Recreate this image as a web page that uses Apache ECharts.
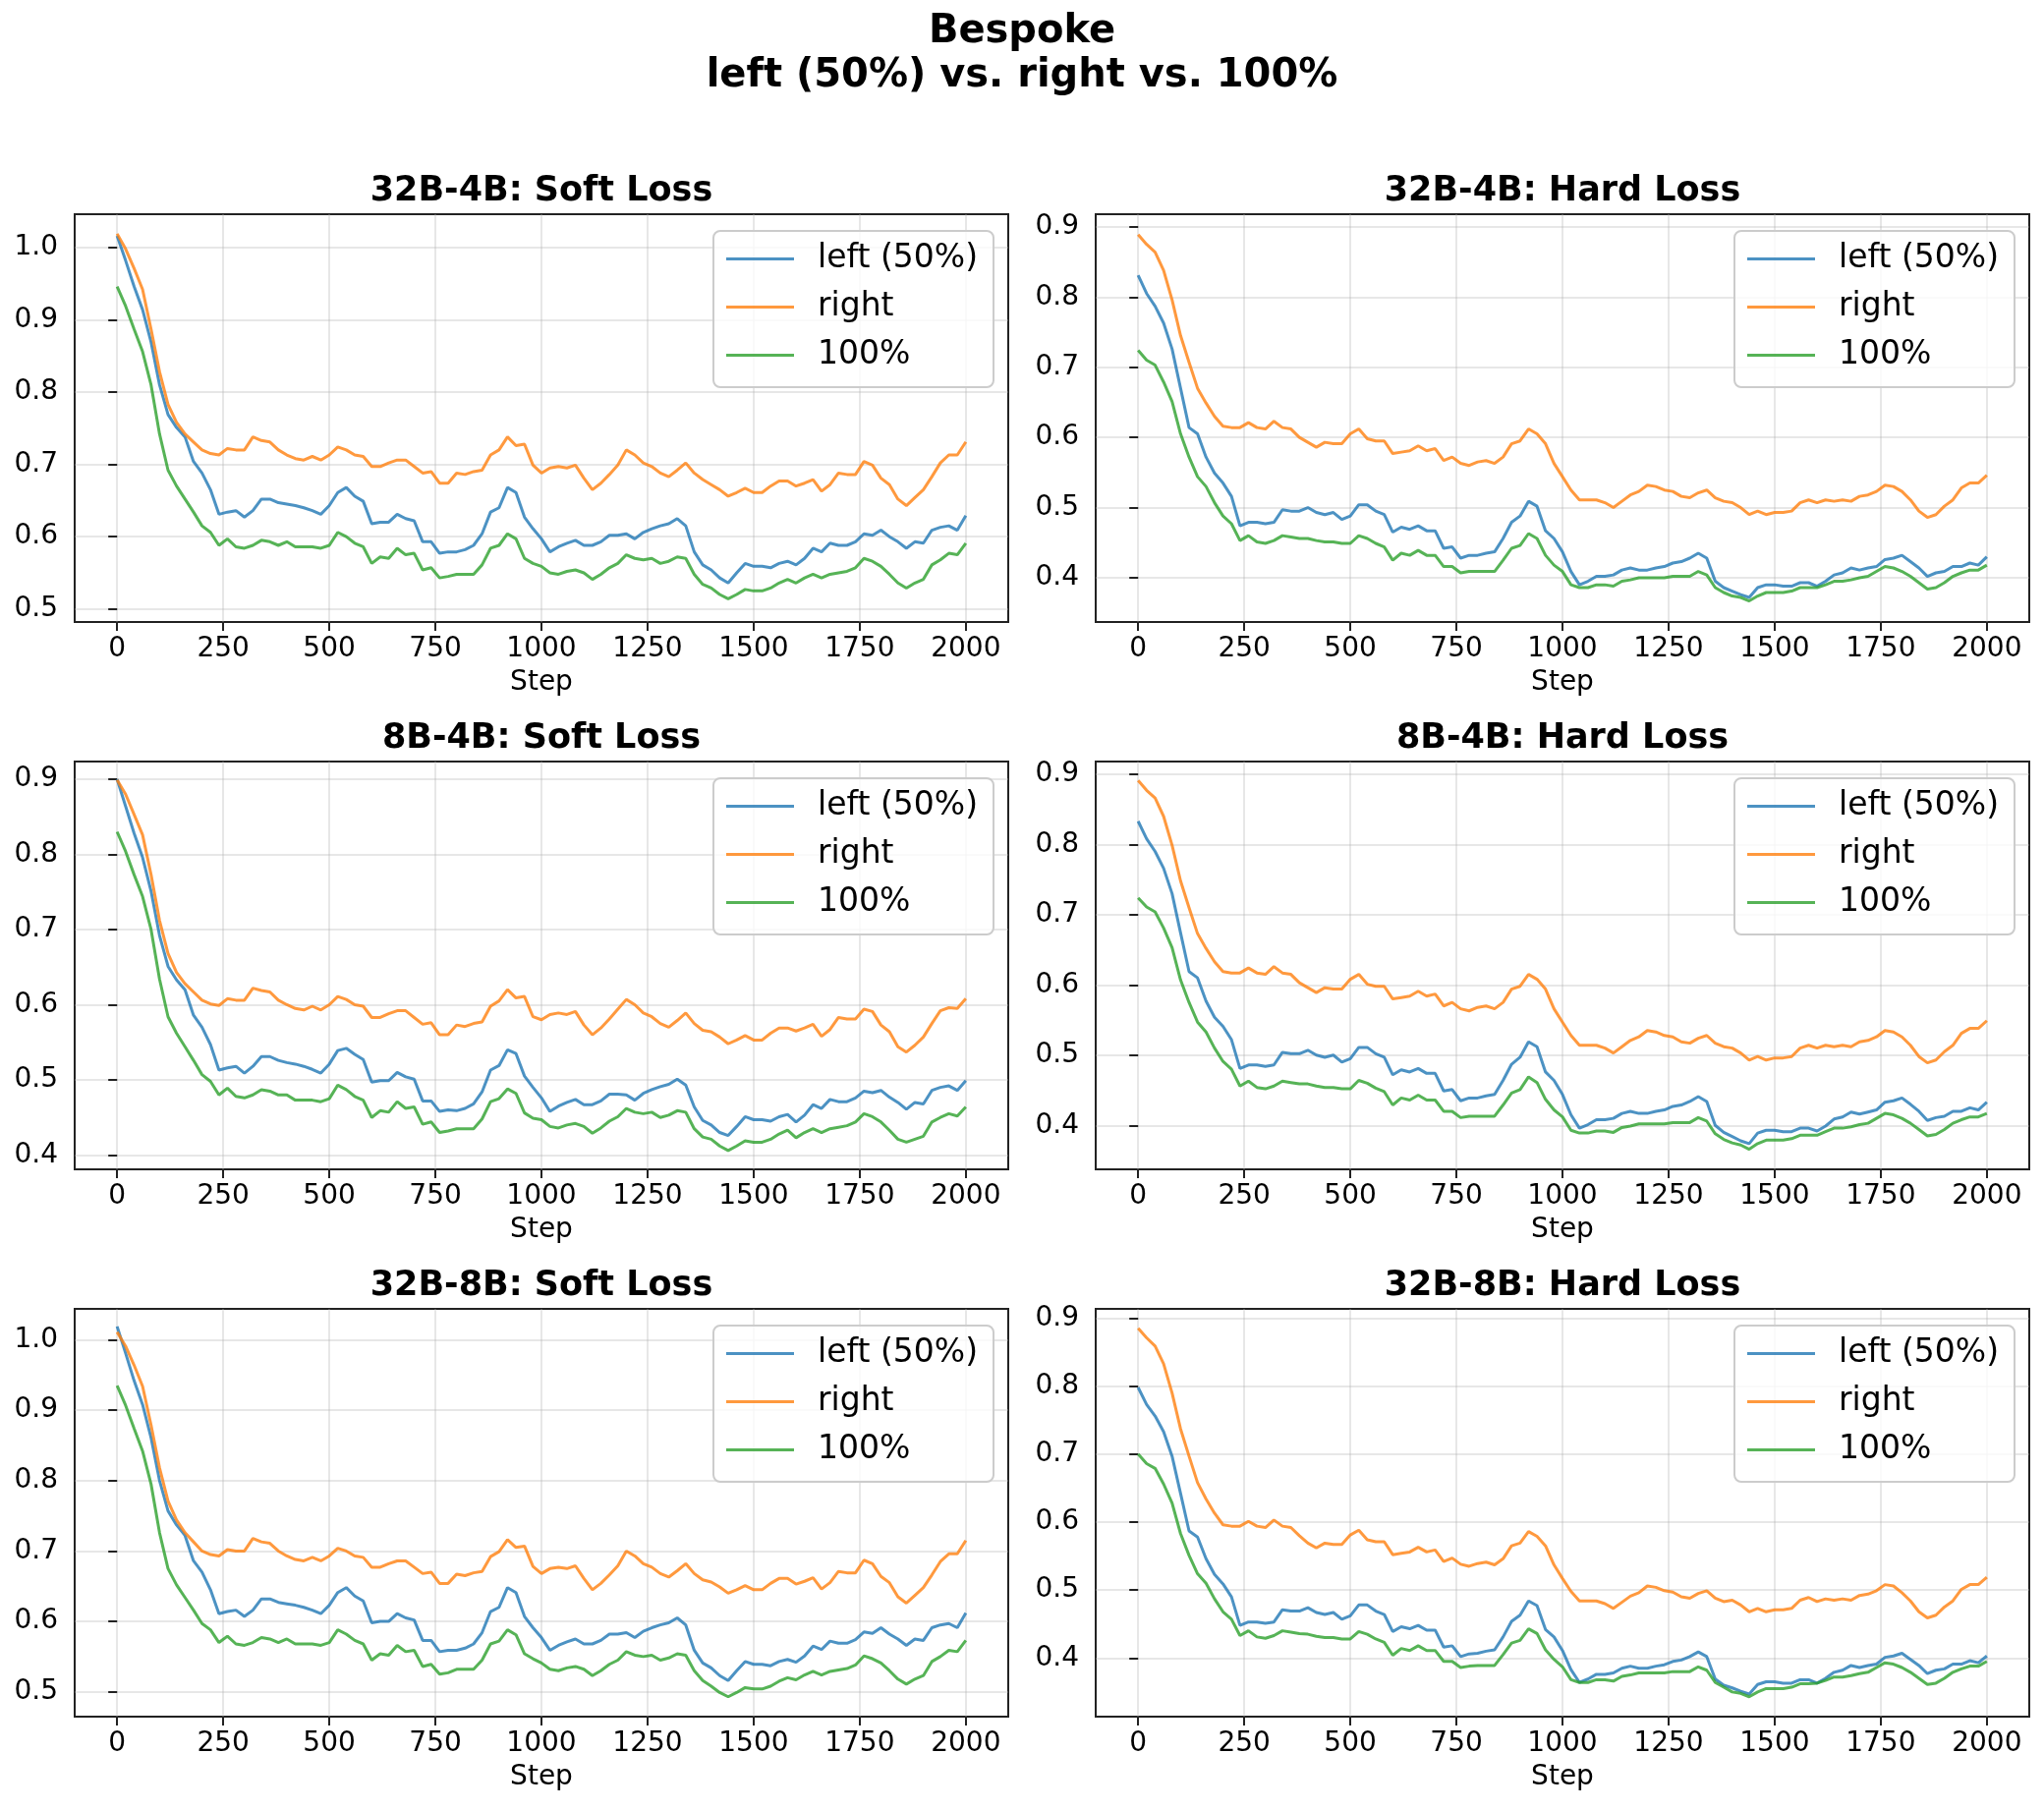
<!DOCTYPE html>
<html><head><meta charset="utf-8">
<script src="https://cdn.jsdelivr.net/npm/echarts@6/dist/echarts.min.js"></script>
<style>html,body{margin:0;padding:0;background:#fff}#c{width:2080px;height:1842px}</style>
</head><body><div id="c"></div>
<script>
// ---------------- data ----------------
const steps = Array.from({length: 101}, (_, i) => i * 20);
const xTicks = [0, 250, 500, 750, 1000, 1250, 1500, 1750, 2000];
const yTicksSoftHi = [0.5, 0.6, 0.7, 0.8, 0.9, 1.0];
const yTicksSoftLo = [0.4, 0.5, 0.6, 0.7, 0.8, 0.9];
const yTicksHard = [0.4, 0.5, 0.6, 0.7, 0.8, 0.9];
const seriesNames = ['left (50%)', 'right', '100%'];
const suptitle = 'Bespoke\nleft (50%) vs. right vs. 100%';
const panelTitles = ['32B-4B: Soft Loss', '32B-4B: Hard Loss', '8B-4B: Soft Loss', '8B-4B: Hard Loss', '32B-8B: Soft Loss', '32B-8B: Hard Loss'];

// 32B-4B soft
const left_32B4B_soft = [1.016,0.982,0.946,0.914,0.869,0.810,0.769,0.751,0.738,0.704,
0.688,0.665,0.631,0.634,0.636,0.627,0.636,0.652,0.652,0.647,
0.645,0.643,0.640,0.636,0.631,0.643,0.661,0.668,0.656,0.649,
0.618,0.620,0.620,0.631,0.625,0.622,0.593,0.593,0.577,0.579,
0.579,0.582,0.588,0.604,0.634,0.640,0.668,0.661,0.627,0.611,
0.597,0.579,0.586,0.591,0.595,0.588,0.588,0.593,0.602,0.602,
0.604,0.597,0.606,0.611,0.615,0.618,0.625,0.615,0.579,0.561,
0.554,0.543,0.536,0.550,0.563,0.559,0.559,0.557,0.563,0.566,
0.561,0.570,0.584,0.579,0.591,0.588,0.588,0.593,0.604,0.602,
0.609,0.600,0.593,0.584,0.593,0.591,0.609,0.613,0.615,0.609,
0.629];
const right_32B4B_soft = [1.019,0.998,0.971,0.942,0.887,0.828,0.783,0.758,0.742,0.731,
0.720,0.715,0.713,0.722,0.720,0.720,0.738,0.733,0.731,0.720,
0.713,0.708,0.706,0.711,0.706,0.713,0.724,0.720,0.713,0.711,
0.697,0.697,0.702,0.706,0.706,0.697,0.688,0.690,0.674,0.674,
0.688,0.686,0.690,0.692,0.713,0.720,0.738,0.726,0.728,0.699,
0.688,0.695,0.697,0.695,0.699,0.681,0.665,0.674,0.686,0.699,
0.720,0.713,0.702,0.697,0.688,0.683,0.692,0.702,0.688,0.679,
0.672,0.665,0.656,0.661,0.667,0.661,0.661,0.670,0.677,0.677,
0.670,0.674,0.679,0.663,0.672,0.688,0.686,0.686,0.704,0.699,
0.681,0.672,0.652,0.643,0.654,0.665,0.683,0.702,0.713,0.713,
0.731];
const full_32B4B_soft = [0.946,0.919,0.887,0.856,0.810,0.742,0.692,0.670,0.652,0.634,
0.615,0.606,0.588,0.597,0.586,0.584,0.588,0.595,0.593,0.588,
0.593,0.586,0.586,0.586,0.584,0.588,0.606,0.600,0.591,0.586,
0.563,0.572,0.570,0.584,0.575,0.577,0.554,0.557,0.543,0.545,
0.548,0.548,0.548,0.561,0.584,0.588,0.604,0.597,0.570,0.563,
0.559,0.550,0.548,0.552,0.554,0.550,0.541,0.548,0.557,0.563,
0.575,0.570,0.568,0.570,0.563,0.566,0.572,0.570,0.548,0.534,
0.529,0.520,0.514,0.520,0.527,0.525,0.525,0.529,0.536,0.541,
0.536,0.543,0.548,0.543,0.548,0.550,0.552,0.557,0.570,0.566,
0.559,0.548,0.536,0.529,0.536,0.541,0.561,0.568,0.577,0.575,
0.591];

// 32B-4B hard
const left_32B4B_hard = [0.831,0.805,0.787,0.763,0.726,0.670,0.614,0.605,0.572,0.549,
0.535,0.516,0.474,0.479,0.479,0.477,0.479,0.497,0.495,0.495,
0.500,0.493,0.490,0.493,0.483,0.488,0.504,0.504,0.495,0.490,
0.465,0.472,0.469,0.474,0.467,0.467,0.442,0.444,0.428,0.432,
0.432,0.435,0.437,0.456,0.479,0.488,0.509,0.502,0.467,0.456,
0.437,0.409,0.390,0.395,0.402,0.402,0.404,0.411,0.414,0.411,
0.411,0.414,0.416,0.421,0.423,0.428,0.435,0.428,0.395,0.386,
0.381,0.376,0.372,0.386,0.390,0.390,0.388,0.388,0.393,0.393,
0.388,0.395,0.404,0.407,0.414,0.411,0.414,0.416,0.426,0.428,
0.432,0.423,0.414,0.402,0.407,0.409,0.416,0.416,0.421,0.418,
0.430];
const right_32B4B_hard = [0.889,0.875,0.864,0.838,0.796,0.745,0.707,0.670,0.649,0.630,
0.616,0.614,0.614,0.621,0.614,0.612,0.623,0.614,0.612,0.600,
0.593,0.586,0.593,0.591,0.591,0.605,0.612,0.598,0.595,0.595,
0.577,0.579,0.581,0.588,0.581,0.584,0.567,0.572,0.563,0.560,
0.565,0.567,0.563,0.572,0.591,0.595,0.612,0.605,0.591,0.563,
0.544,0.525,0.511,0.511,0.511,0.507,0.500,0.509,0.518,0.523,
0.532,0.530,0.525,0.523,0.516,0.514,0.521,0.525,0.514,0.509,
0.507,0.500,0.490,0.495,0.490,0.493,0.493,0.495,0.507,0.511,
0.507,0.511,0.509,0.511,0.509,0.516,0.518,0.523,0.532,0.530,
0.523,0.511,0.495,0.486,0.490,0.502,0.511,0.528,0.535,0.535,
0.546];
const full_32B4B_hard = [0.724,0.710,0.703,0.679,0.651,0.605,0.572,0.544,0.530,0.507,
0.488,0.477,0.453,0.460,0.451,0.449,0.453,0.460,0.458,0.456,
0.456,0.453,0.451,0.451,0.449,0.449,0.460,0.456,0.449,0.444,
0.425,0.435,0.432,0.439,0.432,0.432,0.416,0.416,0.407,0.409,
0.409,0.409,0.409,0.425,0.442,0.446,0.463,0.456,0.432,0.418,
0.409,0.390,0.386,0.386,0.390,0.390,0.388,0.395,0.397,0.400,
0.400,0.400,0.400,0.402,0.402,0.402,0.409,0.404,0.386,0.379,
0.374,0.372,0.367,0.374,0.379,0.379,0.379,0.381,0.386,0.386,
0.386,0.390,0.395,0.395,0.397,0.400,0.402,0.409,0.416,0.414,
0.409,0.402,0.393,0.384,0.386,0.393,0.402,0.407,0.411,0.411,
0.418];

// 8B-4B soft
const left_8B4B_soft = [0.900,0.864,0.828,0.796,0.751,0.692,0.651,0.633,0.620,0.586,
0.570,0.547,0.513,0.516,0.518,0.509,0.518,0.531,0.531,0.526,
0.523,0.521,0.518,0.514,0.509,0.521,0.539,0.542,0.534,0.527,
0.497,0.499,0.499,0.510,0.504,0.501,0.472,0.472,0.458,0.460,
0.459,0.462,0.468,0.484,0.513,0.519,0.540,0.535,0.505,0.490,
0.476,0.458,0.465,0.470,0.474,0.467,0.467,0.472,0.481,0.481,
0.480,0.473,0.482,0.487,0.491,0.494,0.501,0.493,0.464,0.446,
0.440,0.430,0.426,0.438,0.451,0.447,0.447,0.445,0.451,0.454,
0.444,0.453,0.467,0.462,0.474,0.471,0.471,0.476,0.485,0.483,
0.486,0.477,0.470,0.461,0.470,0.468,0.486,0.490,0.492,0.486,
0.499];
const right_8B4B_soft = [0.899,0.880,0.853,0.826,0.773,0.712,0.668,0.643,0.628,0.617,
0.606,0.601,0.599,0.608,0.606,0.606,0.622,0.619,0.617,0.606,
0.600,0.595,0.593,0.598,0.593,0.600,0.611,0.607,0.600,0.598,
0.583,0.583,0.588,0.592,0.592,0.583,0.574,0.576,0.560,0.560,
0.573,0.571,0.575,0.577,0.598,0.605,0.620,0.609,0.611,0.584,
0.580,0.587,0.589,0.587,0.591,0.573,0.560,0.569,0.581,0.594,
0.607,0.600,0.589,0.584,0.575,0.570,0.579,0.589,0.575,0.566,
0.564,0.557,0.548,0.553,0.559,0.553,0.553,0.562,0.569,0.569,
0.565,0.569,0.574,0.558,0.567,0.583,0.581,0.581,0.594,0.591,
0.573,0.564,0.544,0.537,0.546,0.557,0.575,0.592,0.596,0.595,
0.608];
const full_8B4B_soft = [0.830,0.804,0.773,0.744,0.700,0.634,0.584,0.562,0.544,0.526,
0.507,0.498,0.480,0.489,0.478,0.476,0.480,0.487,0.485,0.480,
0.480,0.473,0.473,0.473,0.471,0.475,0.493,0.487,0.478,0.473,
0.450,0.459,0.457,0.471,0.462,0.464,0.441,0.444,0.430,0.432,
0.435,0.435,0.435,0.448,0.471,0.475,0.488,0.482,0.456,0.449,
0.447,0.438,0.436,0.440,0.442,0.438,0.429,0.436,0.445,0.451,
0.462,0.457,0.455,0.457,0.450,0.453,0.459,0.457,0.435,0.424,
0.421,0.412,0.406,0.412,0.419,0.417,0.417,0.421,0.428,0.433,
0.423,0.430,0.435,0.430,0.435,0.437,0.439,0.444,0.455,0.451,
0.444,0.433,0.421,0.417,0.421,0.425,0.444,0.450,0.455,0.452,
0.464];

// 8B-4B hard
const left_8B4B_hard = [0.833,0.808,0.790,0.766,0.730,0.674,0.619,0.610,0.577,0.554,
0.541,0.522,0.481,0.486,0.486,0.484,0.486,0.504,0.502,0.502,
0.507,0.500,0.497,0.500,0.490,0.495,0.511,0.511,0.502,0.497,
0.472,0.479,0.476,0.481,0.474,0.474,0.449,0.451,0.435,0.439,
0.439,0.442,0.444,0.464,0.487,0.497,0.519,0.512,0.476,0.464,
0.444,0.415,0.396,0.401,0.408,0.408,0.410,0.417,0.420,0.417,
0.417,0.420,0.422,0.427,0.429,0.434,0.441,0.434,0.400,0.390,
0.384,0.378,0.374,0.389,0.393,0.393,0.391,0.391,0.396,0.396,
0.392,0.399,0.409,0.412,0.419,0.416,0.419,0.422,0.433,0.435,
0.439,0.430,0.420,0.407,0.411,0.413,0.420,0.420,0.425,0.422,
0.433];
const right_8B4B_hard = [0.891,0.877,0.866,0.840,0.799,0.748,0.710,0.673,0.652,0.633,
0.619,0.617,0.617,0.624,0.617,0.615,0.626,0.617,0.615,0.603,
0.596,0.589,0.596,0.594,0.594,0.608,0.615,0.601,0.598,0.598,
0.580,0.582,0.584,0.591,0.584,0.587,0.570,0.575,0.566,0.563,
0.568,0.570,0.566,0.575,0.594,0.598,0.615,0.608,0.594,0.566,
0.547,0.528,0.514,0.514,0.514,0.510,0.503,0.512,0.521,0.526,
0.535,0.533,0.528,0.526,0.519,0.517,0.524,0.528,0.517,0.512,
0.510,0.503,0.493,0.498,0.493,0.496,0.496,0.498,0.510,0.514,
0.510,0.514,0.512,0.514,0.512,0.519,0.521,0.526,0.535,0.533,
0.526,0.514,0.498,0.489,0.493,0.505,0.514,0.531,0.538,0.538,
0.549];
const full_8B4B_hard = [0.724,0.711,0.704,0.681,0.653,0.607,0.575,0.547,0.533,0.510,
0.491,0.480,0.456,0.463,0.454,0.452,0.456,0.463,0.461,0.459,
0.459,0.456,0.454,0.454,0.452,0.452,0.464,0.460,0.453,0.448,
0.429,0.439,0.436,0.443,0.436,0.436,0.420,0.420,0.411,0.413,
0.413,0.413,0.413,0.429,0.446,0.451,0.469,0.461,0.437,0.422,
0.412,0.393,0.389,0.389,0.392,0.392,0.390,0.397,0.399,0.402,
0.402,0.402,0.402,0.404,0.404,0.404,0.411,0.406,0.388,0.380,
0.375,0.372,0.366,0.374,0.379,0.379,0.379,0.381,0.386,0.386,
0.386,0.391,0.396,0.396,0.398,0.401,0.403,0.410,0.417,0.415,
0.410,0.403,0.394,0.385,0.387,0.394,0.403,0.408,0.412,0.412,
0.417];

// 32B-8B soft
const left_32B8B_soft = [1.019,0.981,0.942,0.908,0.861,0.800,0.757,0.737,0.722,0.686,
0.670,0.645,0.611,0.614,0.616,0.607,0.616,0.632,0.632,0.627,
0.625,0.623,0.620,0.616,0.611,0.623,0.641,0.648,0.636,0.629,
0.598,0.600,0.600,0.611,0.605,0.602,0.573,0.573,0.557,0.559,
0.559,0.562,0.568,0.584,0.614,0.620,0.648,0.641,0.607,0.591,
0.577,0.559,0.566,0.571,0.575,0.568,0.568,0.573,0.582,0.582,
0.584,0.577,0.586,0.591,0.595,0.598,0.605,0.595,0.559,0.541,
0.534,0.523,0.516,0.530,0.543,0.539,0.539,0.537,0.543,0.546,
0.542,0.551,0.565,0.560,0.572,0.569,0.569,0.574,0.585,0.583,
0.591,0.582,0.575,0.566,0.575,0.573,0.591,0.595,0.597,0.591,
0.612];
const right_32B8B_soft = [1.011,0.991,0.964,0.934,0.879,0.818,0.771,0.744,0.726,0.713,
0.700,0.695,0.693,0.702,0.700,0.700,0.718,0.713,0.711,0.700,
0.693,0.688,0.686,0.691,0.686,0.693,0.704,0.700,0.693,0.691,
0.677,0.677,0.682,0.686,0.686,0.677,0.668,0.670,0.654,0.654,
0.667,0.665,0.669,0.671,0.692,0.699,0.716,0.705,0.707,0.678,
0.668,0.675,0.677,0.675,0.679,0.661,0.645,0.654,0.666,0.679,
0.700,0.693,0.682,0.677,0.668,0.663,0.672,0.682,0.668,0.659,
0.656,0.649,0.640,0.645,0.651,0.645,0.645,0.654,0.661,0.661,
0.653,0.657,0.662,0.646,0.655,0.671,0.669,0.669,0.687,0.682,
0.664,0.655,0.635,0.626,0.637,0.648,0.666,0.685,0.696,0.696,
0.715];
const full_32B8B_soft = [0.935,0.907,0.874,0.842,0.795,0.726,0.675,0.652,0.634,0.616,
0.597,0.588,0.570,0.579,0.568,0.566,0.570,0.577,0.575,0.570,
0.575,0.568,0.568,0.568,0.566,0.570,0.588,0.582,0.573,0.568,
0.545,0.554,0.552,0.566,0.557,0.559,0.536,0.539,0.525,0.527,
0.532,0.532,0.532,0.545,0.568,0.572,0.588,0.581,0.554,0.547,
0.541,0.532,0.530,0.534,0.536,0.532,0.523,0.530,0.539,0.545,
0.557,0.552,0.550,0.552,0.545,0.548,0.554,0.552,0.530,0.516,
0.508,0.499,0.493,0.499,0.506,0.504,0.504,0.508,0.515,0.520,
0.517,0.524,0.529,0.524,0.529,0.531,0.533,0.538,0.551,0.547,
0.541,0.530,0.518,0.511,0.518,0.523,0.543,0.550,0.559,0.557,
0.573];

// 32B-8B hard
const left_32B8B_hard = [0.798,0.773,0.756,0.733,0.697,0.642,0.587,0.578,0.546,0.523,
0.509,0.490,0.448,0.453,0.453,0.451,0.453,0.471,0.469,0.469,
0.474,0.467,0.464,0.467,0.457,0.462,0.478,0.478,0.469,0.464,
0.439,0.446,0.443,0.448,0.441,0.441,0.416,0.418,0.402,0.406,
0.407,0.410,0.412,0.431,0.454,0.463,0.484,0.477,0.442,0.431,
0.411,0.383,0.364,0.369,0.376,0.376,0.378,0.385,0.388,0.385,
0.385,0.388,0.390,0.395,0.397,0.402,0.409,0.402,0.369,0.360,
0.356,0.351,0.347,0.361,0.365,0.365,0.363,0.363,0.368,0.368,
0.363,0.370,0.379,0.382,0.389,0.386,0.389,0.391,0.401,0.403,
0.407,0.398,0.389,0.377,0.382,0.384,0.391,0.391,0.396,0.393,
0.403];
const right_32B8B_hard = [0.885,0.871,0.859,0.833,0.790,0.737,0.697,0.658,0.634,0.613,
0.596,0.594,0.594,0.601,0.594,0.592,0.603,0.594,0.592,0.580,
0.569,0.562,0.569,0.567,0.567,0.581,0.588,0.574,0.571,0.571,
0.552,0.554,0.556,0.563,0.556,0.559,0.542,0.547,0.538,0.535,
0.539,0.541,0.537,0.546,0.565,0.569,0.586,0.579,0.565,0.537,
0.517,0.498,0.484,0.484,0.484,0.480,0.473,0.482,0.491,0.496,
0.506,0.504,0.499,0.497,0.490,0.488,0.495,0.499,0.488,0.483,
0.485,0.478,0.468,0.473,0.468,0.471,0.471,0.473,0.485,0.489,
0.483,0.487,0.485,0.487,0.485,0.492,0.494,0.499,0.508,0.506,
0.496,0.484,0.468,0.459,0.463,0.475,0.484,0.501,0.508,0.508,
0.519];
const full_32B8B_hard = [0.700,0.686,0.679,0.656,0.628,0.583,0.551,0.524,0.510,0.487,
0.468,0.457,0.433,0.440,0.431,0.429,0.433,0.440,0.438,0.436,
0.435,0.432,0.430,0.430,0.428,0.428,0.439,0.435,0.428,0.423,
0.404,0.414,0.411,0.418,0.411,0.411,0.395,0.395,0.386,0.388,
0.389,0.389,0.389,0.405,0.422,0.426,0.443,0.436,0.412,0.398,
0.387,0.368,0.364,0.364,0.368,0.368,0.366,0.373,0.375,0.378,
0.378,0.378,0.378,0.380,0.380,0.380,0.387,0.382,0.364,0.357,
0.350,0.348,0.343,0.350,0.355,0.355,0.355,0.357,0.362,0.362,
0.363,0.367,0.372,0.372,0.374,0.377,0.379,0.386,0.393,0.391,
0.386,0.379,0.370,0.361,0.363,0.370,0.379,0.384,0.388,0.388,
0.395];

const panelData = [
  {left: left_32B4B_soft, right: right_32B4B_soft, full: full_32B4B_soft, yMin: 0.482, yMax: 1.046, yTicks: yTicksSoftHi},
  {left: left_32B4B_hard, right: right_32B4B_hard, full: full_32B4B_hard, yMin: 0.337, yMax: 0.918, yTicks: yTicksHard},
  {left: left_8B4B_soft, right: right_8B4B_soft, full: full_8B4B_soft, yMin: 0.381, yMax: 0.9235, yTicks: yTicksSoftLo},
  {left: left_8B4B_hard, right: right_8B4B_hard, full: full_8B4B_hard, yMin: 0.3374, yMax: 0.918, yTicks: yTicksHard},
  {left: left_32B8B_soft, right: right_32B8B_soft, full: full_32B8B_soft, yMin: 0.4647, yMax: 1.044, yTicks: yTicksSoftHi},
  {left: left_32B8B_hard, right: right_32B8B_hard, full: full_32B8B_hard, yMin: 0.3137, yMax: 0.9137, yTicks: yTicksHard}
];

// ---------------- layout / style ----------------
const FONT = 'DejaVu Sans';
const COLORS = ['#1f77b4', '#ff7f0e', '#2ca02c'];
const colLeft = [76, 1115];
const rowTop = [218, 775, 1332];
const GW = 950, GH = 415;

const option = {
  animation: false,
  backgroundColor: '#ffffff',
  title: [{
    text: suptitle, left: 1040, top: 10.5, textAlign: 'center', padding: 0,
    textStyle: {fontFamily: FONT, fontSize: 40, fontWeight: 'bold', color: '#000', lineHeight: 45}
  }],
  grid: [], xAxis: [], yAxis: [], legend: [], series: []
};

panelData.forEach((p, i) => {
  const gx = colLeft[i % 2], gy = rowTop[Math.floor(i / 2)];
  option.title.push({
    text: panelTitles[i], left: gx + GW / 2, top: gy - 41, textAlign: 'center', padding: 0,
    textStyle: {fontFamily: FONT, fontSize: 35, fontWeight: 'bold', color: '#000', lineHeight: 35}
  });
  option.grid.push({left: gx, top: gy, width: GW, height: GH, containLabel: false,
    show: true, borderColor: '#222', borderWidth: 2, backgroundColor: 'transparent'});
  option.xAxis.push({
    type: 'value', gridIndex: i, min: -100, max: 2100,
    name: 'Step', nameLocation: 'middle', nameGap: 48,
    nameTextStyle: {fontFamily: FONT, fontSize: 28, color: '#000'},
    axisLine: {show: false},
    axisTick: {show: true, length: 9, lineStyle: {color: '#222', width: 2}, customValues: xTicks},
    axisLabel: {show: true, margin: 14, fontFamily: FONT, fontSize: 28, color: '#000', customValues: xTicks,
      formatter: v => String(Math.round(v))},
    splitLine: {show: true, lineStyle: {color: 'rgba(176,176,176,0.3)', width: 2}}
  });
  option.yAxis.push({
    type: 'value', gridIndex: i, min: p.yMin, max: p.yMax,
    axisLine: {show: false},
    axisTick: {show: true, length: 9, lineStyle: {color: '#222', width: 2}, customValues: p.yTicks},
    axisLabel: {show: true, margin: 17, fontFamily: FONT, fontSize: 28, color: '#000', customValues: p.yTicks,
      formatter: v => v.toFixed(1)},
    splitLine: {show: true, lineStyle: {color: 'rgba(176,176,176,0.3)', width: 2}}
  });
  const arrs = [p.left, p.right, p.full];
  arrs.forEach((arr, k) => {
    option.series.push({
      type: 'line', name: seriesNames[k], xAxisIndex: i, yAxisIndex: i,
      data: steps.map((s, j) => [s, arr[j]]),
      showSymbol: false, symbol: 'none', silent: true, z: 2 + k,
      lineStyle: {color: COLORS[k], width: 3, opacity: 0.8},
      itemStyle: {color: COLORS[k], opacity: 0.8}
    });
  });
  option.legend.push({
    orient: 'vertical', left: gx + 650, top: gy + 17,
    data: seriesNames.map(n => ({name: n, icon: 'rect'})),
    itemWidth: 69, itemHeight: 3, itemGap: 16,
    padding: [12, 16, 16, 13],
    backgroundColor: 'rgba(255,255,255,0.8)', borderColor: '#cccccc', borderWidth: 2, borderRadius: 7,
    itemStyle: {borderWidth: 0},
    textStyle: {fontFamily: FONT, fontSize: 33, color: '#000', padding: [0, 0, 0, 19]},
    selectedMode: false
  });
});

const chart = echarts.init(document.getElementById('c'), null, {renderer: 'canvas', width: 2080, height: 1842});
chart.setOption(option);
</script>
</body></html>
